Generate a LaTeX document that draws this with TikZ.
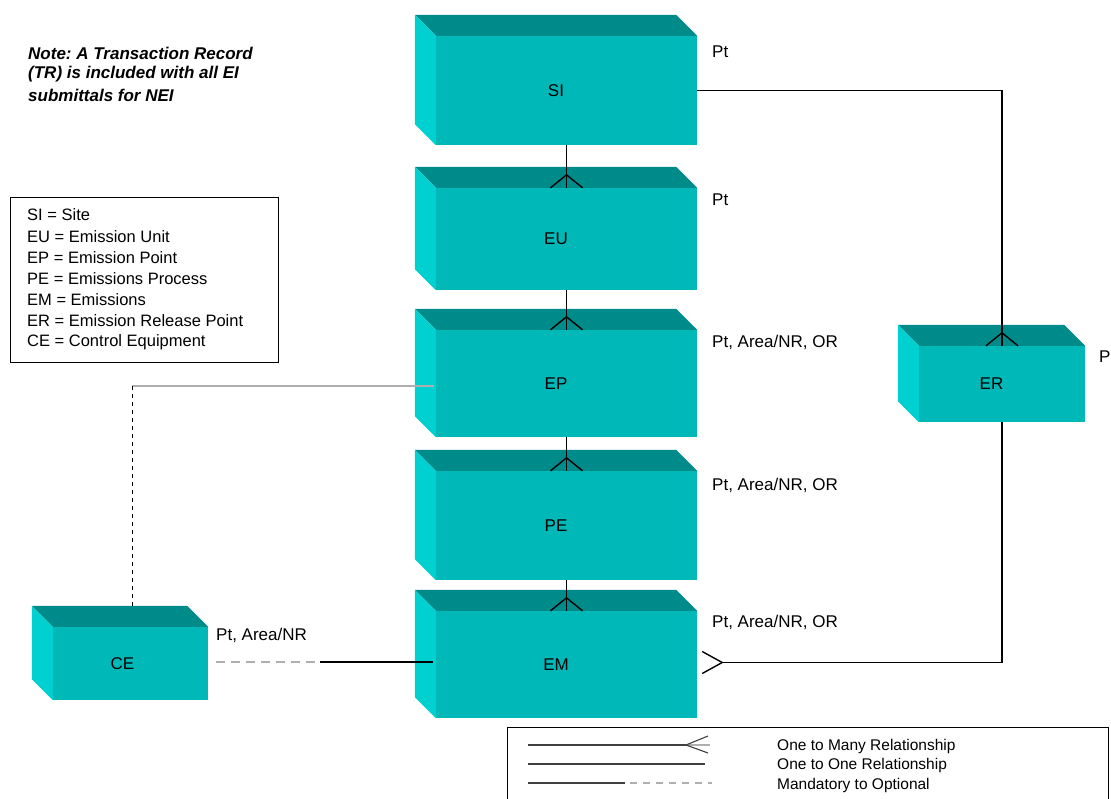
\documentclass[tikz,border=0pt]{standalone}
\usepackage{fontspec}
\setmainfont{Liberation Sans}
\frenchspacing
\definecolor{tfront}{RGB}{0,184,184}
\definecolor{ttop}{RGB}{0,139,139}
\definecolor{tleft}{RGB}{0,208,208}
\definecolor{lgray}{RGB}{175,175,175}
\newcommand\entityfaces[1]{%
  \fill[ttop] (#1.north west) -- ([shift={(-21pt,21pt)}]#1.north west) -- ([shift={(-21pt,21pt)}]#1.north east) -- (#1.north east) -- cycle;
  \fill[tleft] (#1.north west) -- ([shift={(-21pt,21pt)}]#1.north west) -- ([shift={(-21pt,21pt)}]#1.south west) -- (#1.south west) -- cycle;}
\newcommand\crowdown[1]{%
  \draw[rel] ([yshift=13pt]#1) -- ([xshift=-16pt]#1);
  \draw[rel] ([yshift=13pt]#1) -- ([xshift=16pt]#1);}
\newcommand\elabel[1]{\hspace*{-21pt}\raisebox{-2pt}{#1}}
\begin{document}
\begin{tikzpicture}[x=1pt,y=-1pt,
  entity/.style={fill=tfront, inner sep=0pt, font=\fontsize{17}{20}\selectfont},
  rel/.style={line width=1.4pt, black},
  sidelabel/.style={anchor=west, inner sep=0pt, font=\fontsize{17}{20}\selectfont},
  legtext/.style={anchor=west, inner sep=0pt, font=\fontsize{16.5}{20}\selectfont},
  notetext/.style={anchor=west, inner sep=0pt, font=\fontsize{17}{20}\selectfont\bfseries\itshape},
  keytext/.style={anchor=west, inner sep=0pt, font=\fontsize{15.5}{18}\selectfont},
  keyline/.style={line width=1.1pt, black!75}]
\useasboundingbox (0,0) rectangle (1111,798);

% entities
\node[entity, minimum width=261pt, minimum height=109pt] (SI) at (566.5,90.5) {\elabel{SI}};
\node[entity, minimum width=261pt, minimum height=102pt] (EU) at (566.5,239) {\hspace*{-21pt}\raisebox{-4pt}{EU}};
\node[entity, minimum width=261pt, minimum height=107pt] (EP) at (566.5,383.5) {\elabel{EP}};
\node[entity, minimum width=261pt, minimum height=109pt] (PE) at (566.5,525.5) {\elabel{PE}};
\node[entity, minimum width=261pt, minimum height=107pt] (EM) at (566.5,664.5) {\elabel{EM}};
\node[entity, minimum width=166pt, minimum height=76pt] (ER) at (1002,384) {\elabel{ER}};
\node[entity, minimum width=155pt, minimum height=73pt] (CE) at (130.5,663.5) {\hspace*{-16pt}\raisebox{-1pt}{CE}};
\entityfaces{SI}\entityfaces{EU}\entityfaces{EP}\entityfaces{PE}\entityfaces{EM}\entityfaces{ER}\entityfaces{CE}

% side labels
\node[sidelabel] (lSI) at (712,52) {Pt};
\node[sidelabel] (lEU) at (712,200) {Pt};
\node[sidelabel] (lEP) at (712,342) {Pt, Area/NR, OR};
\node[sidelabel] (lPE) at (712,485) {Pt, Area/NR, OR};
\node[sidelabel] (lEM) at (712,622) {Pt, Area/NR, OR};
\node[sidelabel] (lER) at (1099,357) {P};
\node[sidelabel] (lCE) at (216,635) {Pt, Area/NR};

% vertical one-to-many connectors
\draw[rel] (SI.south) -- (EU.north); \crowdown{EU.north}
\draw[rel] (EU.south) -- (EP.north); \crowdown{EP.north}
\draw[rel] (EP.south) -- (PE.north); \crowdown{PE.north}
\draw[rel] (PE.south) -- (EM.north); \crowdown{EM.north}

% SI to ER
\draw[rel] (SI.east) -| (ER.north); \crowdown{ER.north}

% ER to EM
\coordinate (emapex) at ([xshift=25pt,yshift=2pt]EM.east);
\draw[rel] (ER.south) |- (emapex);
\draw[rel] (emapex) -- ([xshift=5pt,yshift=13pt]EM.east);
\draw[rel] (emapex) -- ([xshift=5pt,yshift=-9pt]EM.east);

% EM to CE
\coordinate (emce) at (318,662);
\draw[rel] ([xshift=-3pt,yshift=2.5pt]EM.west) -- ([xshift=2pt]emce);
\draw[lgray, line width=1.4pt, dash pattern=on 9pt off 6pt] ([xshift=-3pt]emce) -- ([xshift=4pt,yshift=1.5pt]CE.east);

% EP to CE
\coordinate (epce) at (132,386);
\draw[lgray, line width=1.4pt] ([xshift=-2pt,yshift=-2.5pt]EP.west) -- (epce);
\draw[black, line width=1pt, dash pattern=on 4pt off 4pt] (epce) -- (epce |- 0,606);

% abbreviation legend
\draw[black, line width=0.9pt] (10,197) rectangle (278,362);
\node[legtext] (k1) at (27,215) {SI = Site};
\node[legtext] (k2) at (27,237) {EU = Emission Unit};
\node[legtext] (k3) at (27,258) {EP = Emission Point};
\node[legtext] (k4) at (27,279) {PE = Emissions Process};
\node[legtext] (k5) at (27,300) {EM = Emissions};
\node[legtext] (k6) at (27,321) {ER = Emission Release Point};
\node[legtext] (k7) at (27,342) {CE = Control Equipment};

% note
\node[notetext] (n1) at (28,53) {Note: A Transaction Record};
\node[notetext] (n2) at (28,74) {(TR) is included with all EI};
\node[notetext] (n3) at (28,95) {submittals for NEI};

% relationship key
\draw[black, line width=0.9pt] (507,800) -- (507,727) -- (1108,727) -- (1108,800);
\draw[keyline] (528,745) -- (686,745);
\draw[lgray, line width=1.1pt] (686,745) -- (710,745);
\draw[keyline] (686,745) -- (708,736);
\draw[keyline] (686,745) -- (708,753);
\draw[keyline] (528,764) -- (705,764);
\draw[keyline] (528,783) -- (625,783);
\draw[lgray, line width=1.1pt, dash pattern=on 7pt off 6pt] (630,783) -- (712,783);
\node[keytext] (t1) at (777,746) {One to Many Relationship};
\node[keytext] (t2) at (777,765) {One to One Relationship};
\node[keytext] (t3) at (777,785) {Mandatory to Optional};
\end{tikzpicture}
\end{document}
